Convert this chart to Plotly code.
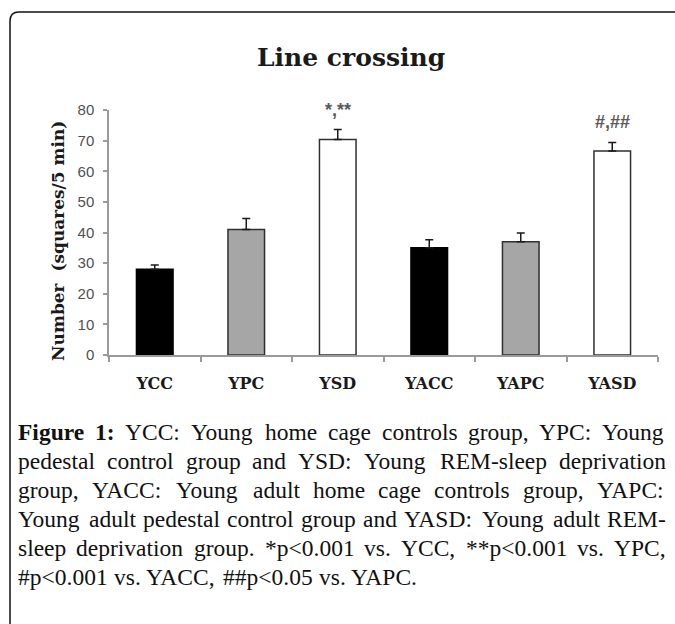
import plotly.graph_objects as go

# ---------------- data ----------------
categories = ["YCC", "YPC", "YSD", "YACC", "YAPC", "YASD"]
means = [28.0, 41.0, 70.4, 35.0, 37.0, 66.6]
sem = [1.4, 3.6, 3.2, 2.6, 2.8, 2.8]
fill_colors = ["#000000", "#A6A6A6", "#FFFFFF", "#000000", "#A6A6A6", "#FFFFFF"]
line_colors = ["#000000", "#303030", "#303030", "#000000", "#303030", "#303030"]
sig_labels = ["", "", "*,**", "", "", "#,##"]
y_ticks = [0, 10, 20, 30, 40, 50, 60, 70, 80]
title_text = "Line crossing"
y_title = "Number  (squares/5 min)"
caption_lines = [
    [("Figure", True), ("1:", True), ("YCC:", False), ("Young", False), ("home", False),
     ("cage", False), ("controls", False), ("group,", False), ("YPC:", False), ("Young", False)],
    "pedestal control group and YSD: Young REM-sleep deprivation",
    "group, YACC: Young adult home cage controls group, YAPC:",
    "Young adult pedestal control group and YASD: Young adult REM-",
    "sleep deprivation group. *p<0.001 vs. YCC, **p<0.001 vs. YPC,",
    "#p<0.001 vs. YACC, ##p<0.05 vs. YAPC.",
]

# ---------------- layout geometry ----------------
W, H = 675, 624
L, R, T, B = 109, 17, 110, 269
PW = W - L - R
PH = H - T - B


def px_x(px):
    return (px - L) / PW


def px_y(py):
    return (H - B - py) / PH


# Times / Liberation Serif metrics (1/1000 em)
REG = {' ': 250, 'a': 444, 'b': 500, 'c': 444, 'd': 500, 'e': 444, 'f': 333, 'g': 500, 'h': 500,
       'i': 278, 'j': 278, 'k': 500, 'l': 278, 'm': 778, 'n': 500, 'o': 500, 'p': 500, 'q': 500,
       'r': 333, 's': 389, 't': 278, 'u': 500, 'v': 500, 'w': 722, 'x': 500, 'y': 500, 'z': 444,
       'A': 722, 'B': 667, 'C': 667, 'D': 722, 'E': 611, 'F': 556, 'G': 722, 'H': 722, 'I': 333,
       'J': 389, 'K': 722, 'L': 611, 'M': 889, 'N': 722, 'O': 722, 'P': 556, 'Q': 722, 'R': 667,
       'S': 556, 'T': 611, 'U': 722, 'V': 722, 'W': 944, 'X': 722, 'Y': 722, 'Z': 611,
       '.': 250, ',': 250, ':': 278, '-': 333, '<': 564, '#': 500, '*': 500}
BOLD = {'F': 611, 'i': 278, 'g': 500, 'u': 556, 'r': 444, 'e': 444, '1': 500, ':': 333}

cap_size = 23.5
cap_left, cap_right = 17, 665
cap_top = 432
cap_step = 29


def word_w(word, bold):
    tbl = BOLD if bold else REG
    return sum(tbl.get(ch, 500) for ch in word) * cap_size / 1000.0


fig = go.Figure()
fig.add_trace(go.Bar(
    x=categories, y=means, width=0.4,
    marker=dict(color=fill_colors, line=dict(color=line_colors, width=1.5)),
    error_y=dict(type="data", array=sem, arrayminus=[0] * len(sem), symmetric=False,
                 color="#1a1a1a", thickness=1.5, width=4),
    showlegend=False,
))

annotations = []
# significance markers
for c, m, e, s in zip(categories, means, sem, sig_labels):
    if s:
        annotations.append(dict(x=c, y=m + e, xref="x", yref="y", text=s, showarrow=False,
                                yanchor="bottom", yshift=8,
                                font=dict(family="Liberation Sans", size=18, color="#5a5a5a",
                                          weight="bold")))

# title
annotations.append(dict(x=px_x(351), y=px_y(57), xref="paper", yref="paper", text=title_text,
                        showarrow=False, xanchor="center", yanchor="middle",
                        font=dict(family="DejaVu Serif", size=25, color="#1a1a1a", weight="bold")))
# y-axis title
annotations.append(dict(x=px_x(58), y=px_y(241), xref="paper", yref="paper", text=y_title,
                        showarrow=False, textangle=-90, xanchor="center", yanchor="middle",
                        font=dict(family="DejaVu Serif", size=17, color="#1a1a1a", weight="bold")))

# caption, justified word by word
for i, line in enumerate(caption_lines):
    if isinstance(line, str):
        words = [(w, False) for w in line.split(" ")]
    else:
        words = line
    widths = [word_w(w, b) for w, b in words]
    last = i == len(caption_lines) - 1
    if last or len(words) < 2:
        gap = REG[' '] * cap_size / 1000.0
    else:
        gap = (cap_right - cap_left - sum(widths)) / (len(words) - 1)
    x = cap_left
    yc = cap_top + i * cap_step
    for (w, b), ww in zip(words, widths):
        txt = "<b>%s</b>" % w if b else w
        annotations.append(dict(x=px_x(x), y=px_y(yc), xref="paper", yref="paper", text=txt,
                                showarrow=False, xanchor="left", yanchor="middle", borderpad=0,
                                font=dict(family="Liberation Serif", size=cap_size, color="#111111")))
        x += ww + gap

# outer frame with rounded top-left corner
r = 9
frame_path = "M {a},{b} L {c},{d} Q {e},{f} {g},{h} L {i},{j}".format(
    a=px_x(10), b=px_y(700), c=px_x(10), d=px_y(12 + r),
    e=px_x(10), f=px_y(12), g=px_x(10 + r), h=px_y(12), i=px_x(720), j=px_y(12))

fig.update_layout(
    width=W, height=H,
    margin=dict(l=L, r=R, t=T, b=B, autoexpand=False),
    paper_bgcolor="white", plot_bgcolor="white",
    annotations=annotations,
    shapes=[dict(type="path", xref="paper", yref="paper", path=frame_path,
                 line=dict(color="#111111", width=1.5), layer="above")],
    xaxis=dict(type="category", showline=True, linecolor="#9a9a9a", linewidth=1.5,
               ticks="outside", tickson="boundaries", ticklen=5, tickcolor="#9a9a9a", tickwidth=1.5,
               showgrid=False, zeroline=False, ticklabelstandoff=13,
               tickfont=dict(family="DejaVu Serif", size=16, color="#1a1a1a", weight="bold")),
    yaxis=dict(range=[0, 80], tickvals=y_ticks, showline=True, linecolor="#9a9a9a", linewidth=1.5,
               ticks="outside", ticklen=4, tickcolor="#9a9a9a", tickwidth=1.5,
               showgrid=False, zeroline=False, ticklabelstandoff=6,
               tickfont=dict(family="Liberation Sans", size=15, color="#505050")),
    bargap=0.6,
)

fig.write_html("out.html", config={"displayModeBar": False},
               post_script="document.body.style.margin='0px';document.body.style.overflow='hidden';")
